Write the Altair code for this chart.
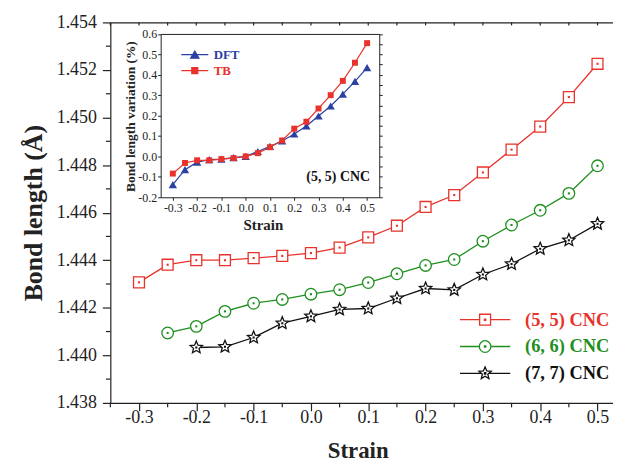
import math
import altair as alt
import pandas as pd

SERIF = "Liberation Serif"
RED = "#e8322b"
GREEN = "#1f8f1f"
BLACK = "#111111"
BLUE = "#2b40a3"

# ---------------- main data ----------------
series_names = ["(5, 5) CNC", "(6, 6) CNC", "(7, 7) CNC"]
series_markers = ["square", "circle", "star"]
series_colors = [RED, GREEN, BLACK]

strain_55 = [-0.3, -0.25, -0.2, -0.15, -0.1, -0.05, 0.0, 0.05, 0.1, 0.15, 0.2, 0.25, 0.3, 0.35, 0.4, 0.45, 0.5]
bond_55 = [1.44307, 1.44381, 1.44400, 1.44400, 1.44409, 1.44418, 1.44430, 1.44453, 1.44496, 1.44545,
           1.44624, 1.44674, 1.44769, 1.44865, 1.44962, 1.45086, 1.45226]
strain_66 = [-0.25, -0.2, -0.15, -0.1, -0.05, 0.0, 0.05, 0.1, 0.15, 0.2, 0.25, 0.3, 0.35, 0.4, 0.45, 0.5]
bond_66 = [1.44094, 1.44122, 1.44185, 1.44219, 1.44235, 1.44257, 1.44276, 1.44306, 1.44343, 1.44378,
           1.44403, 1.44480, 1.44548, 1.44610, 1.44681, 1.44797]
strain_77 = [-0.2, -0.15, -0.1, -0.05, 0.0, 0.05, 0.1, 0.15, 0.2, 0.25, 0.3, 0.35, 0.4, 0.45, 0.5]
bond_77 = [1.44033, 1.44036, 1.44075, 1.44135, 1.44164, 1.44193, 1.44197, 1.44240, 1.44281, 1.44275,
           1.44340, 1.44384, 1.44448, 1.44484, 1.44553]

# ---------------- inset data ----------------
method_names = ["DFT", "TB"]
method_markers = ["triangle", "filled square"]
method_colors = [BLUE, RED]
strain_in = [-0.3, -0.25, -0.2, -0.15, -0.1, -0.05, 0.0, 0.05, 0.1, 0.15, 0.2, 0.25, 0.3, 0.35, 0.4, 0.45, 0.5]
var_dft = [-0.138, -0.065, -0.028, -0.016, -0.013, -0.006, 0.0, 0.024, 0.049, 0.076, 0.110, 0.149,
           0.198, 0.247, 0.305, 0.368, 0.435]
var_tb = [-0.084, -0.032, -0.019, -0.019, -0.013, -0.008, 0.0, 0.016, 0.045, 0.078, 0.136, 0.170,
          0.235, 0.300, 0.370, 0.459, 0.555]
inset_label = "(5, 5) CNC"

# ---------------- ticks ----------------
x_major = [-0.3, -0.2, -0.1, 0.0, 0.1, 0.2, 0.3, 0.4, 0.5]
x_minor = [-0.35, -0.25, -0.15, -0.05, 0.05, 0.15, 0.25, 0.35, 0.45]
x_top = sorted(x_major + x_minor)
y_major = [1.438, 1.440, 1.442, 1.444, 1.446, 1.448, 1.450, 1.452, 1.454]
y_minor = [1.439, 1.441, 1.443, 1.445, 1.447, 1.449, 1.451, 1.453]
in_x_ticks = [-0.3, -0.2, -0.1, 0.0, 0.1, 0.2, 0.3, 0.4, 0.5]
in_y_ticks = [-0.2, -0.1, 0.0, 0.1, 0.2, 0.3, 0.4, 0.5, 0.6]
in_y_right = [-0.2, -0.15, -0.1, -0.05, 0.0, 0.05, 0.1, 0.15, 0.2, 0.25, 0.3, 0.35, 0.4, 0.45, 0.5, 0.55, 0.6]

main_df = pd.concat([
    pd.DataFrame({"strain": strain_55, "bond": bond_55, "series": series_names[0], "marker": series_markers[0]}),
    pd.DataFrame({"strain": strain_66, "bond": bond_66, "series": series_names[1], "marker": series_markers[1]}),
    pd.DataFrame({"strain": strain_77, "bond": bond_77, "series": series_names[2], "marker": series_markers[2]}),
], ignore_index=True)
inset_df = pd.concat([
    pd.DataFrame({"strain": strain_in, "value": var_dft, "method": method_names[0], "marker": method_markers[0]}),
    pd.DataFrame({"strain": strain_in, "value": var_tb, "method": method_names[1], "marker": method_markers[1]}),
], ignore_index=True)

# ---------------- symbols ----------------
def star_path(R, ratio):
    pts = []
    for k in range(10):
        ang = math.radians(-90 + 36 * k)
        rad = R if k % 2 == 0 else R * ratio
        pts.append((rad * math.cos(ang), rad * math.sin(ang)))
    return "M" + "L".join(f"{x:.3f},{y:.3f}" for x, y in pts) + "Z"

SQ = "M-1,-1L1,-1L1,1L-1,1Z"
CI = "M-1.06,0A1.06,1.06,0,1,1,1.06,0A1.06,1.06,0,1,1,-1.06,0Z"
ST = star_path(1.18, 0.45)
DOT = "M-0.12,-0.12L0.12,-0.12L0.12,0.12L-0.12,0.12Z"
main_shapes = [SQ, CI, ST]
main_stub_in = [1.0, 1.06, 0.70]
main_legend_paths = [f"M-4.6,0L-{s},0M{s},0L4.6,0" + p + DOT for s, p in zip(main_stub_in, main_shapes)]

TRI = "M0,-0.9L1.05,0.9L-1.05,0.9Z"
SQS = "M-0.75,-0.75L0.75,-0.75L0.75,0.75L-0.75,0.75Z"
in_shapes = [TRI, SQS]
in_legend_paths = ["M-3.4,0L3.4,0" + p for p in in_shapes]


def cond_expr(names, vals):
    expr = f"'{vals[-1]}'"
    for n, v in reversed(list(zip(names[:-1], vals[:-1]))):
        expr = f"datum.value === '{n}' ? '{v}' : ({expr})"
    return expr


HYPH = "replace(format(datum.value, '.1f'), '\u2212', '-')"

W, H = 506, 383

# ---------------- scales ----------------
XS_MAIN = alt.Scale(domain=[-0.35, 0.527], nice=False, zero=False)
YS_MAIN = alt.Scale(domain=[1.438, 1.454], nice=False, zero=False)
XS_IN = alt.Scale(domain=[-0.35, 0.55], range=[50.7, 270.7], nice=False, zero=False)
YS_IN = alt.Scale(domain=[-0.2, 0.6], range=[176, 11.6], nice=False, zero=False)

AX_X_MAIN = alt.Axis(orient="bottom", values=x_major, labelExpr=HYPH, tickSize=8, tickWidth=1.2,
                     domainWidth=1.2, domainColor="#222", tickColor="#222", labelFont=SERIF,
                     labelFontSize=18, labelColor="#222", labelPadding=-2, labelFlush=False,
                     labelOverlap=False, title="Strain", titleFont=SERIF, titleFontSize=23,
                     titleFontWeight="bold", titleColor="#222", titleX=249, titleY=55,
                     titleAlign="center", titleBaseline="alphabetic")
AX_Y_MAIN = alt.Axis(orient="left", values=y_major, format=".3f", tickSize=8, tickWidth=1.2,
                     domainWidth=1.2, domainColor="#222", tickColor="#222", labelFont=SERIF,
                     labelFontSize=18, labelColor="#222", labelPadding=6, labelOverlap=False,
                     title="Bond length (Å)", titleFont=SERIF, titleFontSize=26,
                     titleFontWeight="bold", titleColor="#222", titleAngle=270, titleX=-69,
                     titleY=H / 2, titleAlign="center", titleBaseline="alphabetic")
AX_X_IN = alt.Axis(orient="bottom", offset=-207, values=in_x_ticks, labelExpr=HYPH, tickSize=3,
                   domainColor="#222", tickColor="#222", labelFont=SERIF, labelFontSize=12,
                   labelColor="#222", labelPadding=2, labelFlush=False, labelOverlap=False,
                   title="Strain", titleFont=SERIF, titleFontSize=15, titleFontWeight="bold",
                   titleColor="#222", titleX=153.5, titleY=32, titleAlign="center",
                   titleBaseline="alphabetic")
AX_Y_IN = alt.Axis(orient="left", offset=-50.7, values=in_y_ticks, labelExpr=HYPH, tickSize=3,
                   domainColor="#222", tickColor="#222", labelFont=SERIF, labelFontSize=12,
                   labelColor="#222", labelPadding=1, labelOverlap=False,
                   title="Bond length variation (%)", titleFont=SERIF, titleFontSize=13.5,
                   titleFontWeight="bold", titleColor="#222", titleAngle=270, titleX=-26.7,
                   titleY=94.3, titleAlign="center", titleBaseline="alphabetic")
AX_Y_IN_R = alt.Axis(orient="right", offset=-(W - 270.7), values=in_y_right, tickSize=3, labels=False,
                     domainColor="#222", tickColor="#222", title=None)
AX_X_IN_T = alt.Axis(orient="top", offset=-11.6, ticks=False, labels=False, domainColor="#222", title=None)
AX_X_MAIN_T = alt.Axis(orient="top", ticks=False, labels=False, domainColor="#222", domainWidth=1.2,
                       title=None)

main_shape_expr = cond_expr(series_names, main_legend_paths)
main_color_expr = cond_expr(series_names, series_colors)
in_shape_expr = cond_expr(method_names, in_legend_paths)
in_color_expr = cond_expr(method_names, method_colors)

LEG_MAIN = alt.Legend(
    title=None, orient="none", legendX=368, legendY=290, direction="vertical", padding=0,
    symbolSize=121, symbolStrokeWidth=1.3, symbolType={"expr": main_shape_expr},
    symbolFillColor="white", symbolOpacity=1,
    labelColor={"expr": main_color_expr}, labelFont=SERIF, labelFontSize=18.5, labelFontWeight="bold",
    labelOffset=31, rowPadding=8,
)
LEG_IN = alt.Legend(
    title=None, orient="none", legendX=78.5, legendY=26, direction="vertical", padding=0,
    symbolSize=64, symbolStrokeWidth=1.2, symbolType={"expr": in_shape_expr}, symbolOpacity=1,
    labelColor={"expr": in_color_expr}, labelFont=SERIF, labelFontSize=13, labelFontWeight="bold",
    labelOffset=12.5, rowPadding=2,
)

C_MAIN = alt.Color("series:N", scale=alt.Scale(domain=series_names, range=series_colors), legend=LEG_MAIN)
S_MAIN = alt.Shape("marker:N", scale=alt.Scale(domain=series_markers, range=main_shapes), legend=None)
C_IN = alt.Color("method:N", scale=alt.Scale(domain=method_names, range=method_colors), legend=LEG_IN)
S_IN = alt.Shape("marker:N", scale=alt.Scale(domain=method_markers, range=in_shapes), legend=None)

X_MAIN = alt.X("strain:Q", scale=XS_MAIN, axis=AX_X_MAIN)
Y_MAIN = alt.Y("bond:Q", scale=YS_MAIN, axis=AX_Y_MAIN)

base_main = alt.Chart(main_df)
main_lines = base_main.mark_line(strokeWidth=1.3).encode(x=X_MAIN, y=Y_MAIN, color=C_MAIN)
main_pts = base_main.mark_point(size=121, filled=False, fill="white", strokeWidth=1.3, opacity=1).encode(
    x=X_MAIN, y=Y_MAIN, color=C_MAIN, shape=S_MAIN)
main_dots = base_main.mark_point(size=1, filled=False, shape="square", strokeWidth=1.1, opacity=1).encode(
    x=X_MAIN, y=Y_MAIN, color=C_MAIN)

x_minor_rules = alt.Chart(pd.DataFrame({"strain": x_minor})).mark_rule(color="#222", strokeWidth=1.2).encode(
    x=X_MAIN, y=alt.value(H), y2=alt.value(H + 4.5))
top_rules = alt.Chart(pd.DataFrame({"strain": x_top})).mark_rule(color="#222", strokeWidth=1.2).encode(
    x=X_MAIN, y=alt.value(0), y2=alt.value(3))
y_minor_rules = alt.Chart(pd.DataFrame({"bond": y_minor})).mark_rule(color="#222", strokeWidth=1.2).encode(
    y=Y_MAIN, x=alt.value(0), x2=alt.value(-4.5))

main_group = alt.layer(main_lines, main_pts, main_dots, x_minor_rules, y_minor_rules, top_rules)

X_IN = alt.X("strain:Q", scale=XS_IN, axis=AX_X_IN)
Y_IN = alt.Y("value:Q", scale=YS_IN, axis=AX_Y_IN)
base_in = alt.Chart(inset_df)
in_lines = base_in.mark_line(strokeWidth=1.2).encode(x=X_IN, y=Y_IN, color=C_IN)
in_pts = base_in.mark_point(size=64, filled=True, opacity=1).encode(
    x=X_IN, y=Y_IN, color=C_IN, shape=S_IN)
in_text = alt.Chart(pd.DataFrame({"t": [inset_label]})).mark_text(
    font=SERIF, fontSize=14, fontWeight="bold", color="#111", align="left", baseline="alphabetic"
).encode(x=alt.value(197.3), y=alt.value(159.3), text="t:N")
inset_group = alt.layer(in_lines, in_pts, in_text)

inset_right = base_in.mark_point(opacity=0).encode(
    x=alt.X("strain:Q", scale=XS_IN, axis=None), y=alt.Y("value:Q", scale=YS_IN, axis=AX_Y_IN_R))
inset_top = base_in.mark_point(opacity=0).encode(
    x=alt.X("strain:Q", scale=XS_IN, axis=AX_X_IN_T), y=alt.Y("value:Q", scale=YS_IN, axis=None))
main_top = base_main.mark_point(opacity=0).encode(
    x=alt.X("strain:Q", scale=XS_MAIN, axis=AX_X_MAIN_T), y=alt.Y("bond:Q", scale=YS_MAIN, axis=None))

chart = alt.layer(main_group, inset_group, inset_right, inset_top, main_top).resolve_scale(
    x="independent", y="independent", color="independent", shape="independent"
).properties(
    width=W, height=H,
    padding={"left": 103, "top": 13, "right": 0, "bottom": 60},
    autosize=alt.AutoSizeParams(type="none"),
    background="white",
).configure_view(stroke=None).configure_axis(grid=False)

chart.save("out.html", embed_options={"renderer": "svg", "actions": False})
